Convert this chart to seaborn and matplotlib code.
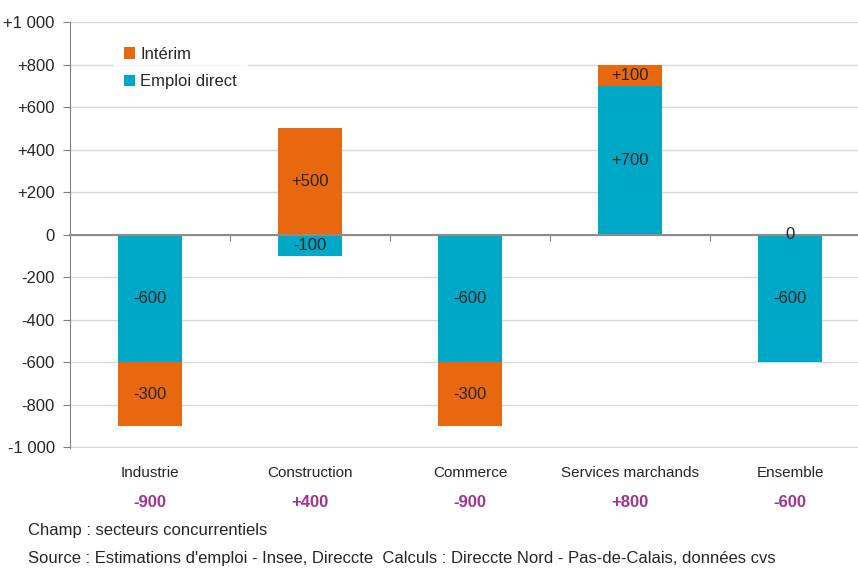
import matplotlib
matplotlib.use('Agg')
import matplotlib.pyplot as plt
import seaborn as sns
import pandas as pd
import numpy as np

# data
secteurs = ['Industrie', 'Construction', 'Commerce', 'Services marchands', 'Ensemble']
emploi_direct = [-600, -100, -600, 700, -600]
interim = [-300, 500, -300, 100, 0]
totaux = ['-900', '+400', '-900', '+800', '-600']
y_ticks = [-1000, -800, -600, -400, -200, 0, 200, 400, 600, 800, 1000]
y_labels = ['-1 000', '-800', '-600', '-400', '-200', '0', '+200', '+400', '+600', '+800', '+1 000']

orange = '#E8680F'
bleu = '#00A8C8'
violet = '#A0338C'

sns.set_style('white')
plt.rcParams['font.family'] = ['Liberation Sans', 'DejaVu Sans']

fig = plt.figure(figsize=(8.58, 5.68), dpi=100)
ax = fig.add_axes([70/858, 120/568, 800/858, 426/568])

df = pd.DataFrame({'secteur': secteurs, 'direct': emploi_direct, 'interim': interim})
sns.barplot(data=df, x='secteur', y='direct', color=bleu, width=0.4, saturation=1,
            ax=ax, zorder=3, label='Emploi direct', linewidth=0)

# interim stacked on direct when same sign, else from zero
bottoms = [d if (d * i > 0) else 0 for d, i in zip(emploi_direct, interim)]
pos = np.arange(len(secteurs))
ax.bar(pos, interim, bottom=bottoms, width=0.4, color=orange, zorder=3, label='Intérim', linewidth=0)

def fmt(v):
    return '0' if v == 0 else f'{v:+d}'

for x, d in zip(pos, emploi_direct):
    ax.text(x, d / 2, fmt(d), ha='center', va='center', fontsize=12, zorder=5)
for x, i, b in zip(pos, interim, bottoms):
    ax.text(x, b + i / 2, fmt(i), ha='center', va='center', fontsize=12, zorder=5)

ax.set_ylim(-1003, 1000)
ax.set_xlim(-0.5, 4.5)
ax.set_yticks(y_ticks)
ax.set_yticklabels(y_labels, fontsize=12)
ax.yaxis.grid(True, color='#D9D9D9', linewidth=1, zorder=0)
ax.tick_params(axis='y', left=True, length=5, color='#808080', pad=6)

ax.spines['top'].set_visible(False)
ax.spines['right'].set_visible(False)
ax.spines['left'].set_color('#808080')
ax.spines['bottom'].set_position(('data', 0))
ax.spines['bottom'].set_color('#8C8C8C')
ax.spines['bottom'].set_linewidth(1.5)
ax.spines['bottom'].set_zorder(4)
ax.set_xticks([0.5, 1.5, 2.5, 3.5])
ax.set_xticklabels([])
ax.tick_params(axis='x', bottom=True, length=4, color='#808080')
ax.set_xlabel('')
ax.set_ylabel('')

for x, s, t in zip(pos, secteurs, totaux):
    ax.text(x, -0.059, s, transform=ax.get_xaxis_transform(), ha='center', va='center', fontsize=11)
    ax.text(x, -0.129, t, transform=ax.get_xaxis_transform(), ha='center', va='center',
            fontsize=12, color=violet, fontweight='bold')

h, l = ax.get_legend_handles_labels()
order = [l.index('Intérim'), l.index('Emploi direct')]
leg = ax.legend([h[k] for k in order], [l[k] for k in order], loc='upper left',
                bbox_to_anchor=(0.044, 0.985), frameon=True, fontsize=12,
                handlelength=0.7, handleheight=0.7, handletextpad=0.3,
                borderpad=0.6, labelspacing=0.75, fancybox=False)
leg.get_frame().set_facecolor('white')
leg.get_frame().set_edgecolor('white')
leg.set_zorder(6)

fig.text(28/858, 1 - 530/568, 'Champ : secteurs concurrentiels', fontsize=12, va='center')
fig.text(28/858, 1 - 558/568,
         "Source : Estimations d'emploi - Insee, Direccte  Calculs : Direccte Nord - Pas-de-Calais, données cvs",
         fontsize=12, va='center')

fig.savefig('out.png', dpi=100)
